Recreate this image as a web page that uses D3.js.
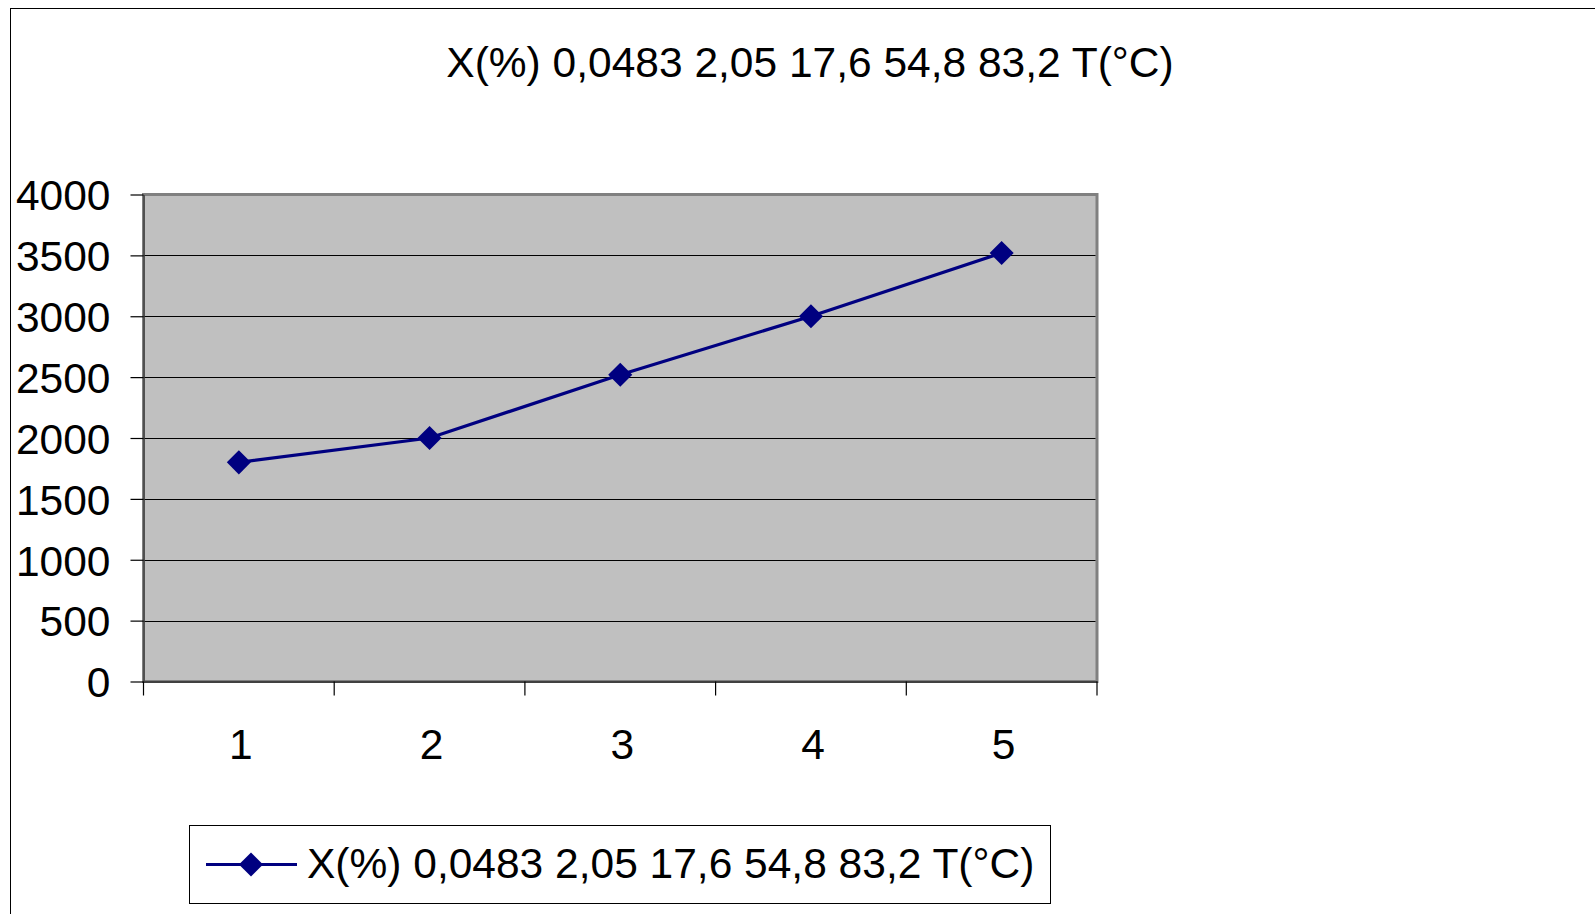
<!DOCTYPE html>
<html>
<head>
<meta charset="utf-8">
<script src="https://cdn.jsdelivr.net/npm/d3@7/dist/d3.min.js"></script>
<style>
  html, body { margin: 0; padding: 0; background: #fff; }
  svg { display: block; }
  text { font-family: "Liberation Sans", Arial, sans-serif; fill: #000; }
</style>
</head>
<body>
<svg id="chart" width="1595" height="914"></svg>
<script>
// ---- data ----
const categories = ["1", "2", "3", "4", "5"];
const seriesName = "X(%) 0,0483 2,05 17,6 54,8 83,2 T(°C)";
const seriesValues = [1800, 2000, 2520, 3000, 3520];
const yTicks = [0, 500, 1000, 1500, 2000, 2500, 3000, 3500, 4000];
const titleText = "X(%) 0,0483 2,05 17,6 54,8 83,2 T(°C)";

// ---- layout ----
const W = 1595, H = 914;
const plot = { left: 143.5, right: 1097, top: 194.5, bottom: 681.5 };
const fontSize = 42.5;
const navy = "#000080";

const svg = d3.select("#chart");

// outer chart frame (extends beyond the visible area on right/bottom)
svg.append("rect")
  .attr("x", 10.5).attr("y", 8.5)
  .attr("width", W + 20).attr("height", H + 20)
  .attr("fill", "#fff").attr("stroke", "#000").attr("stroke-width", 1);

// title
svg.append("text")
  .attr("x", 810).attr("y", 77)
  .attr("text-anchor", "middle")
  .attr("font-size", fontSize)
  .text(titleText);

// scales
const x = d3.scaleBand().domain(categories).range([plot.left, plot.right]).paddingInner(0).paddingOuter(0);
const y = d3.scaleLinear().domain([0, 4000]).range([plot.bottom, plot.top]);

// plot area
svg.append("rect")
  .attr("x", plot.left).attr("y", plot.top)
  .attr("width", plot.right - plot.left).attr("height", plot.bottom - plot.top)
  .attr("fill", "#c0c0c0").attr("stroke", "#808080").attr("stroke-width", 3);

// gridlines
svg.append("g").selectAll("line")
  .data(yTicks.filter(v => v > 0 && v < 4000))
  .join("line")
  .attr("x1", plot.left).attr("x2", plot.right - 1.5)
  .attr("y1", d => Math.round(y(d)) + 0.5).attr("y2", d => Math.round(y(d)) + 0.5)
  .attr("stroke", "#000").attr("stroke-width", 1);

// y axis
const yAxis = d3.axisLeft(y).tickValues(yTicks).tickFormat(d3.format("d"))
  .tickSize(13).tickPadding(20).tickSizeOuter(0);
const gy = svg.append("g").attr("transform", `translate(${plot.left},0)`).call(yAxis);
gy.select(".domain").attr("stroke", "#404040").attr("stroke-width", 1.5);
gy.selectAll(".tick line").attr("stroke", "#000").attr("stroke-width", 1.2);
gy.selectAll(".tick text")
  .attr("font-size", fontSize)
  .attr("font-family", '"Liberation Sans", Arial, sans-serif')
  .attr("fill", "#000")
  .attr("dy", "0.36em");

// x axis: labels at category centres, ticks at category boundaries
const xAxis = d3.axisBottom(x).tickSize(0).tickPadding(0).tickSizeOuter(0);
const gx = svg.append("g").attr("transform", `translate(0,${plot.bottom})`).call(xAxis);
gx.select(".domain").attr("stroke", "#404040").attr("stroke-width", 2);
gx.selectAll(".tick text")
  .attr("font-size", fontSize)
  .attr("font-family", '"Liberation Sans", Arial, sans-serif')
  .attr("fill", "#000")
  .attr("x", 2)
  .attr("y", 77).attr("dy", 0);
const boundaries = categories.map(c => x(c)).concat([x(categories[categories.length - 1]) + x.bandwidth()]);
svg.append("g").selectAll("line")
  .data(boundaries)
  .join("line")
  .attr("x1", d => d).attr("x2", d => d)
  .attr("y1", plot.bottom).attr("y2", plot.bottom + 14)
  .attr("stroke", "#000").attr("stroke-width", 1.2);

// series line
const cx = (c) => x(c) + x.bandwidth() / 2;
const pts = categories.map((c, i) => [cx(c), y(seriesValues[i])]);
svg.append("path")
  .attr("d", d3.line()(pts))
  .attr("fill", "none").attr("stroke", navy).attr("stroke-width", 3.2);

// diamond markers
const diamond = d3.symbol().type(d3.symbolSquare).size(290);
svg.append("g").selectAll("path")
  .data(pts)
  .join("path")
  .attr("d", diamond)
  .attr("transform", d => `translate(${d[0]},${d[1]}) rotate(45)`)
  .attr("fill", navy);

// legend
const lg = svg.append("g");
lg.append("rect")
  .attr("x", 189.5).attr("y", 825.5).attr("width", 861).attr("height", 78)
  .attr("fill", "#fff").attr("stroke", "#000").attr("stroke-width", 1);
lg.append("line")
  .attr("x1", 206).attr("x2", 297).attr("y1", 864.5).attr("y2", 864.5)
  .attr("stroke", navy).attr("stroke-width", 3.2);
lg.append("path")
  .attr("d", diamond)
  .attr("transform", "translate(251,864.5) rotate(45)")
  .attr("fill", navy);
lg.append("text")
  .attr("x", 307).attr("y", 878)
  .attr("font-size", fontSize)
  .text(seriesName);
</script>
</body>
</html>
